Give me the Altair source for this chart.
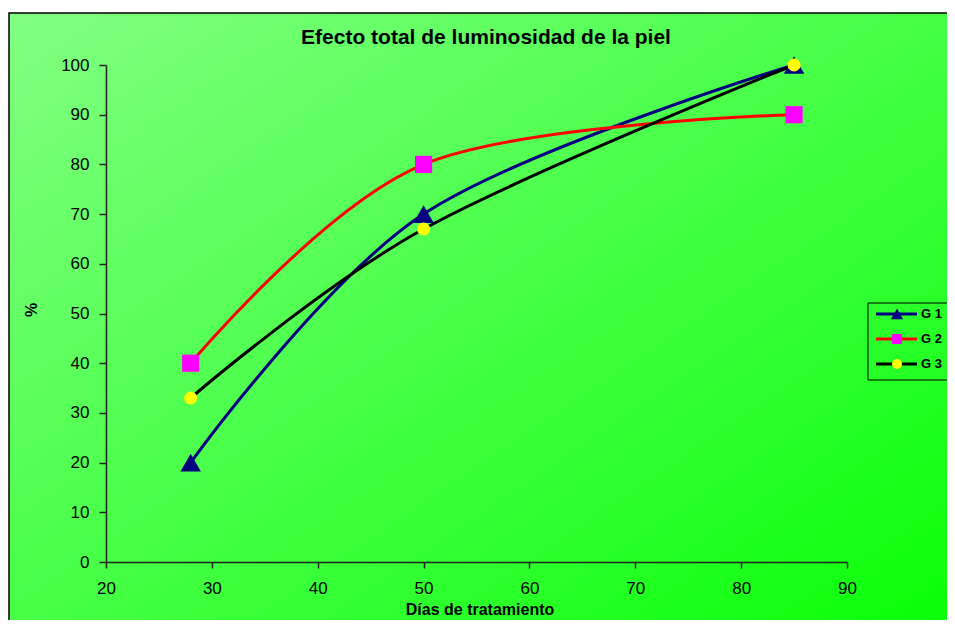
import altair as alt
import pandas as pd

# ---- data ----
dias = [28, 50, 85]
g1 = [20, 70, 100]
g2 = [40, 80, 90]
g3 = [33, 67, 100]
series = ["G 1", "G 2", "G 3"]
line_colors = ["#000080", "#FF0000", "#000000"]
marker_colors = ["#000080", "#FF00FF", "#FFFF00"]
marker_shapes = ["triangle-up", "square", "circle"]
marker_sizes = [420, 170, 145]
legend_marker_sizes = [150, 100, 100]
x_ticks = [20, 30, 40, 50, 60, 70, 80, 90]
y_ticks = [0, 10, 20, 30, 40, 50, 60, 70, 80, 90, 100]

title_text = "Efecto total de luminosidad de la piel"
x_title = "Días de tratamiento"
y_title = "%"

rows = []
for s, vals in zip(series, [g1, g2, g3]):
    for d, v in zip(dias, vals):
        rows.append({"serie": s, "dias": d, "pct": v})
df = pd.DataFrame(rows)

W, H = 741, 497
FONT = "Liberation Sans"

xs = alt.Scale(domain=[20, 90], nice=False, zero=False)
ys = alt.Scale(domain=[0, 100], nice=False)

x_enc = alt.X("dias:Q", scale=xs, axis=alt.Axis(values=x_ticks, title=None, grid=False,
              tickSize=6, labelPadding=12, labelFontSize=17, zindex=1, labelFlush=False))
y_enc = alt.Y("pct:Q", scale=ys, axis=alt.Axis(values=y_ticks, title=None, grid=False,
              tickSize=7, labelPadding=10, labelFontSize=17, zindex=1, labelFlush=False))

gradient = alt.LinearGradient(
    gradient="linear",
    stops=[alt.GradientStop(color="#82FF82", offset=0),
           alt.GradientStop(color="#00FF00", offset=1)],
    x1=0, y1=0, x2=1, y2=1,
)

bg = alt.Chart(pd.DataFrame({"a": [0]})).mark_rect(
    fill=gradient, stroke="black", strokeWidth=1.5
).encode(x=alt.value(-97), x2=alt.value(900), y=alt.value(-52), y2=alt.value(620))

lines = alt.Chart(df).mark_line(interpolate="cardinal", strokeWidth=3).encode(
    x=x_enc, y=y_enc,
    color=alt.Color("serie:N", scale=alt.Scale(domain=series, range=line_colors), legend=None),
    detail="serie:N",
)

points = alt.Chart(df).mark_point(filled=True, opacity=1).encode(
    x=x_enc, y=y_enc,
    fill=alt.Fill("serie:N", scale=alt.Scale(domain=series, range=marker_colors), legend=None),
    shape=alt.Shape("serie:N", scale=alt.Scale(domain=series, range=marker_shapes), legend=None),
    size=alt.Size("serie:N", scale=alt.Scale(domain=series, range=marker_sizes), legend=None),
)

one = pd.DataFrame({"a": [0]})
title = alt.Chart(one).mark_text(
    text=title_text, font=FONT, fontSize=21, fontWeight="bold", align="center",
    baseline="alphabetic", color="black"
).encode(x=alt.value(380), y=alt.value(-21))

xt = alt.Chart(one).mark_text(
    text=x_title, font=FONT, fontSize=16, fontWeight="bold", align="center",
    baseline="alphabetic", color="black"
).encode(x=alt.value(374), y=alt.value(550))

yt = alt.Chart(one).mark_text(
    text=y_title, font=FONT, fontSize=16, fontWeight="bold", align="center",
    baseline="middle", angle=270, color="black"
).encode(x=alt.value(-74), y=alt.value(245))

LX = 762  # legend box left edge (plot coords)
legend_box = alt.Chart(one).mark_rect(fill="transparent", stroke="black", strokeWidth=1).encode(
    x=alt.value(LX), x2=alt.value(900), y=alt.value(238), y2=alt.value(315))

leg_layers = [legend_box]
for i, s in enumerate(series):
    ly = 249 + 25 * i
    leg_layers.append(alt.Chart(one).mark_rule(color=line_colors[i], strokeWidth=3).encode(
        x=alt.value(LX + 8), x2=alt.value(LX + 49), y=alt.value(ly)))
    leg_layers.append(alt.Chart(one).mark_point(
        filled=True, opacity=1, shape=marker_shapes[i], fill=marker_colors[i],
        size=legend_marker_sizes[i]).encode(x=alt.value(LX + 29), y=alt.value(ly)))
    leg_layers.append(alt.Chart(one).mark_text(
        text=s, font=FONT, fontSize=13, fontWeight="bold", align="left",
        baseline="middle", color="black").encode(x=alt.value(LX + 53), y=alt.value(ly)))

chart = alt.layer(bg, lines, points, title, xt, yt, *leg_layers).properties(
    width=W, height=H,
    autosize=alt.AutoSizeParams(type="none"),
    padding={"left": 98, "top": 57, "right": 100, "bottom": 58},
    background="white",
).configure_view(stroke=None).configure_axis(
    domainColor="#222222", tickColor="#222222", domainWidth=1.5, tickWidth=1.5,
    labelFont=FONT, labelColor="black",
)

chart.save("out.html", embed_options={"renderer": "svg", "actions": False})
